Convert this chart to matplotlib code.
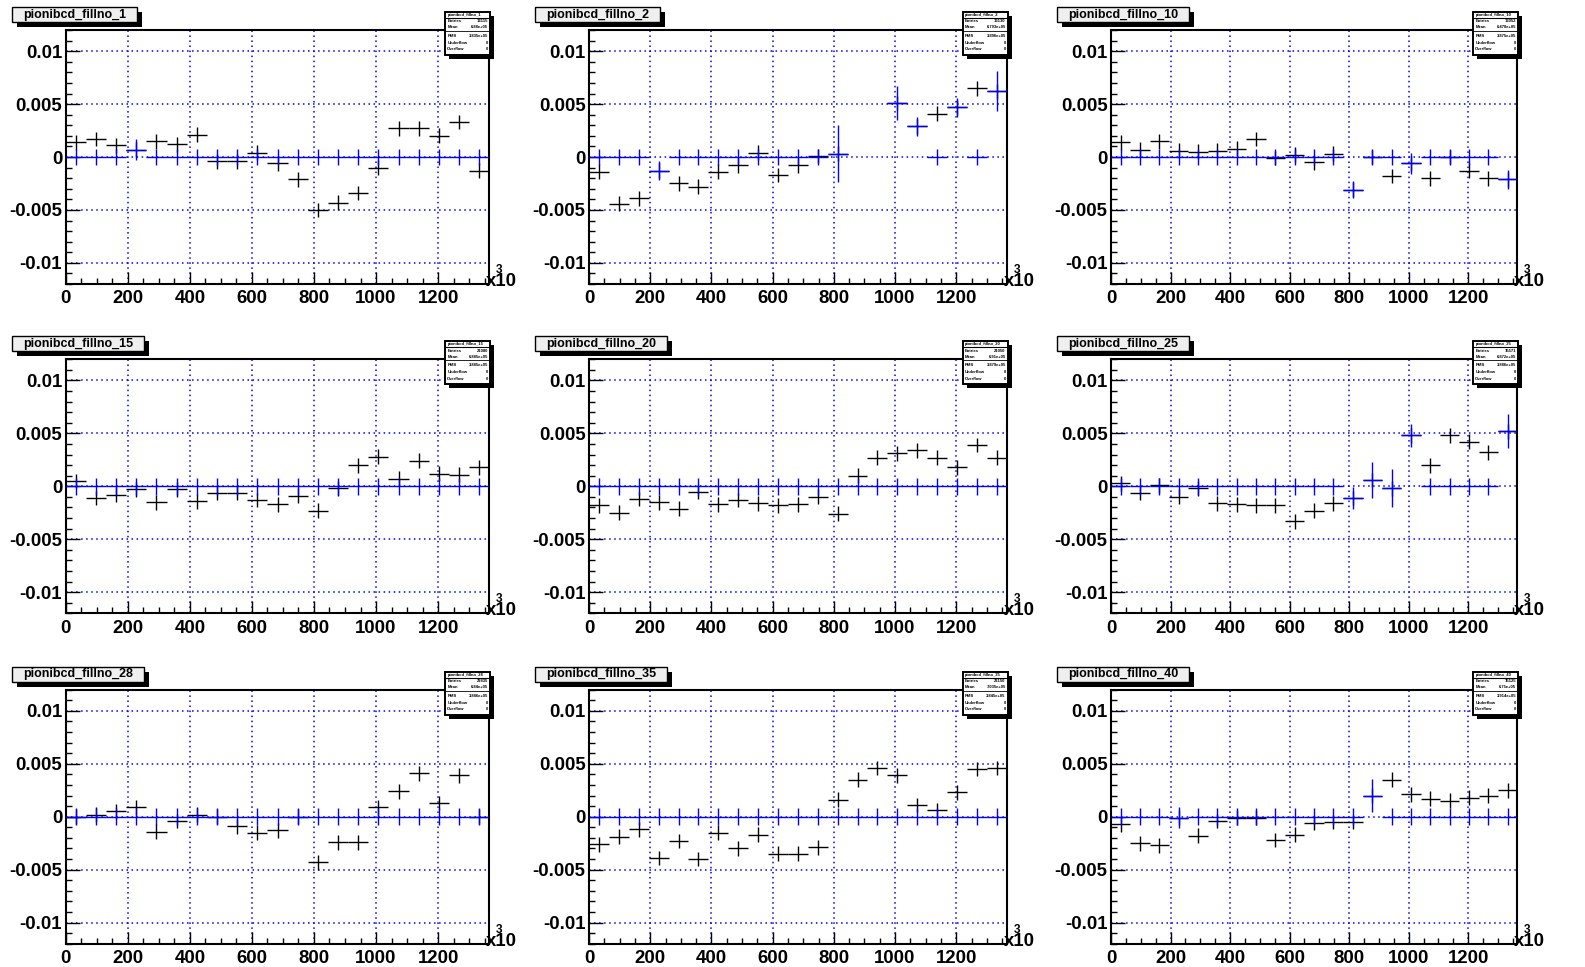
import numpy as np
import matplotlib
matplotlib.use("Agg")
import matplotlib.pyplot as plt
from matplotlib.patches import Rectangle
from matplotlib.lines import Line2D
from matplotlib.transforms import IdentityTransform
from matplotlib.ticker import FixedLocator, MultipleLocator

plt.rcParams['font.family'] = ['Liberation Sans', 'DejaVu Sans']
plt.rcParams['font.weight'] = 'bold'

W, H = 1585, 967
nbins = 21
bin_width = 65.0
x_max = nbins * bin_width
centers = bin_width * (np.arange(nbins) + 0.5)
nan = np.nan

fill_nos = [1, 2, 10, 15, 20, 25, 28, 35, 40]

# asymmetry per bin, one list per fill
fill_1 = [0.0014, 0.0017, 0.0011, 0.0007, 0.0015, 0.0012, 0.0021, -0.0004, -0.0004, 0.0004, -0.0006,
          -0.0021, -0.0050, -0.0043, -0.0034, -0.0010, 0.0027, 0.0027, 0.0020, 0.0033, -0.0013]
fill_2 = [-0.0014, -0.0044, -0.0039, -0.0013, -0.0025, -0.0028, -0.0014, -0.0008, 0.0004, -0.0017, -0.0008,
          0.0001, 0.0003, nan, nan, 0.0051, 0.0029, 0.0041, 0.0047, 0.0065, 0.0062]
fill_10 = [0.0014, 0.0007, 0.0015, 0.0006, 0.0005, 0.0006, 0.0008, 0.0017, -0.0001, 0.0002, -0.0005,
           0.0003, -0.0031, 0.0000, -0.0018, -0.0006, -0.0020, 0.0000, -0.0013, -0.0020, -0.0021]
fill_15 = [0.0005, -0.0011, -0.0008, -0.0003, -0.0015, -0.0003, -0.0014, -0.0006, -0.0006, -0.0013, -0.0017,
           -0.0009, -0.0023, -0.0002, 0.0020, 0.0028, 0.0007, 0.0024, 0.0012, 0.0011, 0.0018]
fill_20 = [-0.0018, -0.0025, -0.0012, -0.0015, -0.0021, -0.0005, -0.0017, -0.0013, -0.0016, -0.0018, -0.0017,
           -0.0010, -0.0026, 0.0010, 0.0027, 0.0031, 0.0034, 0.0027, 0.0018, 0.0039, 0.0027]
fill_25 = [0.0003, -0.0006, 0.0001, -0.0010, -0.0002, -0.0016, -0.0017, -0.0018, -0.0018, -0.0033, -0.0023,
           -0.0016, -0.0011, 0.0006, -0.0002, 0.0048, 0.0020, 0.0048, 0.0042, 0.0032, 0.0052]
fill_28 = [0.0000, 0.0002, 0.0005, 0.0009, -0.0014, -0.0004, 0.0002, 0.0000, -0.0009, -0.0015, -0.0013,
           0.0000, -0.0043, -0.0024, -0.0024, 0.0009, 0.0024, 0.0041, 0.0013, 0.0039, 0.0000]
fill_35 = [-0.0026, -0.0019, -0.0012, -0.0039, -0.0023, -0.0040, -0.0015, -0.0030, -0.0017, -0.0035, -0.0035,
           -0.0029, 0.0016, 0.0035, 0.0046, 0.0039, 0.0011, 0.0006, 0.0023, 0.0045, 0.0046]
fill_40 = [-0.0007, -0.0025, -0.0027, -0.0001, -0.0018, -0.0004, -0.0001, -0.0001, -0.0022, -0.0017, -0.0006,
           -0.0005, -0.0005, 0.0020, 0.0035, 0.0021, 0.0017, 0.0015, 0.0018, 0.0020, 0.0025]

# second (blue) histogram: zero everywhere except these bins {bin index: error}
blue_1 = {3: 0.0010}
blue_2 = {3: 0.0009, 12: 0.0027, 15: 0.0016, 16: 0.0009, 18: 0.0009, 20: 0.0019}
blue_10 = {12: 0.0008, 15: 0.0010, 20: 0.0009}
blue_15 = {}
blue_20 = {}
blue_25 = {12: 0.0010, 13: 0.0017, 14: 0.0018, 15: 0.0011, 20: 0.0016}
blue_28 = {}
blue_35 = {}
blue_40 = {3: 0.0010, 13: 0.0016}

black_err = 0.0007
blue_zero_err = 0.0008

# stat box contents
entries = [13115, 13130, 13052, 21080, 21050, 15571, 22835, 22150, 15125]
means = ['6.88e+05', '6.793e+05', '6.478e+05', '6.885e+05', '6.91e+05',
         '6.872e+05', '6.84e+05', '7.035e+05', '6.75e+05']
rms = ['3.835e+05', '3.896e+05', '3.875e+05', '3.885e+05', '3.879e+05',
       '3.886e+05', '3.886e+05', '3.845e+05', '3.914e+05']

panels = [(fill_1, blue_1), (fill_2, blue_2), (fill_10, blue_10),
          (fill_15, blue_15), (fill_20, blue_20), (fill_25, blue_25),
          (fill_28, blue_28), (fill_35, blue_35), (fill_40, blue_40)]

# pad geometry in pixels (top-left origin)
col_left = [65.7, 589.0, 1111.0]
col_right = [489.3, 1006.7, 1517.3]
row_top = [30.0, 359.3, 689.7]
ax_h = 254.0

fig = plt.figure(figsize=(W / 100, H / 100), dpi=100)
fig.patch.set_facecolor('white')


def px_rect(x0, y0, w, h, **kw):
    return Rectangle((x0, H - (y0 + h)), w, h, transform=IdentityTransform(), **kw)


def px_line(x0, x1, y, **kw):
    return Line2D([x0, x1], [H - y, H - y], transform=IdentityTransform(), **kw)


title_texts = []
for i, (vals, blue) in enumerate(panels):
    r, c = divmod(i, 3)
    left, right, top = col_left[c], col_right[c], row_top[r]
    ax = fig.add_axes([left / W, 1 - (top + ax_h) / H, (right - left) / W, ax_h / H])

    vals = np.array(vals, dtype=float)
    ok = ~np.isnan(vals)
    ax.errorbar(centers[ok], vals[ok], xerr=bin_width / 2, yerr=black_err, fmt='none',
                ecolor='black', elinewidth=1.0, capsize=0, zorder=3)

    bvals = np.where(ok, 0.0, np.nan)
    berr = np.full(nbins, blue_zero_err)
    for k, e in blue.items():
        bvals[k] = vals[k]
        berr[k] = e
    okb = ~np.isnan(bvals)
    ax.errorbar(centers[okb], bvals[okb], xerr=bin_width / 2, yerr=berr[okb], fmt='none',
                ecolor='blue', elinewidth=1.0, capsize=0, zorder=4)

    ax.set_xlim(0, x_max)
    ax.set_ylim(-0.012, 0.012)
    ax.xaxis.set_major_locator(FixedLocator(np.arange(0, 1201, 200)))
    ax.xaxis.set_minor_locator(MultipleLocator(50))
    ax.yaxis.set_major_locator(FixedLocator([-0.01, -0.005, 0, 0.005, 0.01]))
    ax.yaxis.set_minor_locator(MultipleLocator(0.001))
    ax.set_yticklabels(['-0.01', '-0.005', '0', '0.005', '0.01'])
    ax.set_xticklabels([str(v) for v in range(0, 1201, 200)])
    ax.tick_params(which='both', direction='in', top=False, right=False, width=1.0,
                   labelsize=13.4, color='black')
    ax.tick_params(axis='y', which='major', length=10, pad=2.5)
    ax.tick_params(axis='y', which='minor', length=4.5)
    ax.tick_params(axis='x', which='major', length=9, pad=4.5)
    ax.tick_params(axis='x', which='minor', length=4.5)
    ax.grid(True, which='major', color='blue', linestyle=(0, (1, 2.3)), linewidth=1.1)
    ax.set_axisbelow(True)
    for s in ax.spines.values():
        s.set_linewidth(1.5)

    # x10^3 multiplier
    fig.text((right - 3) / W, 1 - (top + ax_h + 2) / H, 'x10', ha='left', va='baseline',
             fontsize=13.4)
    fig.text((right + 10) / W, 1 - (top + ax_h - 14) / H, '3', ha='center', va='center',
             fontsize=8.5)

    # title label
    t = fig.text((left - 54 + 11) / W, 1 - (top - 15.3) / H, 'pionibcd_fillno_%d' % fill_nos[i],
                 ha='left', va='center', fontsize=9, zorder=8)
    title_texts.append((t, left - 54, top - 23))

    # stat box
    bx0, bx1 = right - 44, right + 1
    by0, bh = top - 18, 43
    fig.add_artist(px_rect(bx0 + 4, by0 + 4, bx1 - bx0, bh, fc='black', ec='black', lw=0, zorder=9))
    fig.add_artist(px_rect(bx0, by0, bx1 - bx0, bh, fc='white', ec='black', lw=1.4, zorder=10))
    fig.add_artist(px_line(bx0, bx1, by0 + 6, color='black', lw=0.8, zorder=11))
    fig.add_artist(px_line(bx0, bx1, by0 + 19, color='black', lw=0.6, zorder=11))
    fig.text((bx0 + 2) / W, 1 - (by0 + 3) / H, 'pionibcd_fillno_%d' % fill_nos[i],
             ha='left', va='center', fontsize=3, zorder=12)
    rows = [('Entries', str(entries[i]), 9.5), ('Mean', means[i], 15.5), ('RMS', rms[i], 24),
            ('Underflow', '0', 31), ('Overflow', '0', 37.5)]
    for lab, val, dy in rows:
        fig.text((bx0 + 2) / W, 1 - (by0 + dy) / H, lab, ha='left', va='center', fontsize=3, zorder=12)
        fig.text((bx1 - 2) / W, 1 - (by0 + dy) / H, val, ha='right', va='center', fontsize=3, zorder=12)

# boxes behind the titles, sized from the rendered text
fig.canvas.draw()
renderer = fig.canvas.get_renderer()
for t, x0, y0 in title_texts:
    bb = t.get_window_extent(renderer)
    w = bb.width + 22
    fig.add_artist(px_rect(x0 + 5, y0 + 5, w, 15, fc='black', ec='black', lw=0, zorder=6))
    fig.add_artist(px_rect(x0, y0, w, 15, fc='#efefef', ec='black', lw=1.0, zorder=7))

fig.savefig('out.png', dpi=100)
